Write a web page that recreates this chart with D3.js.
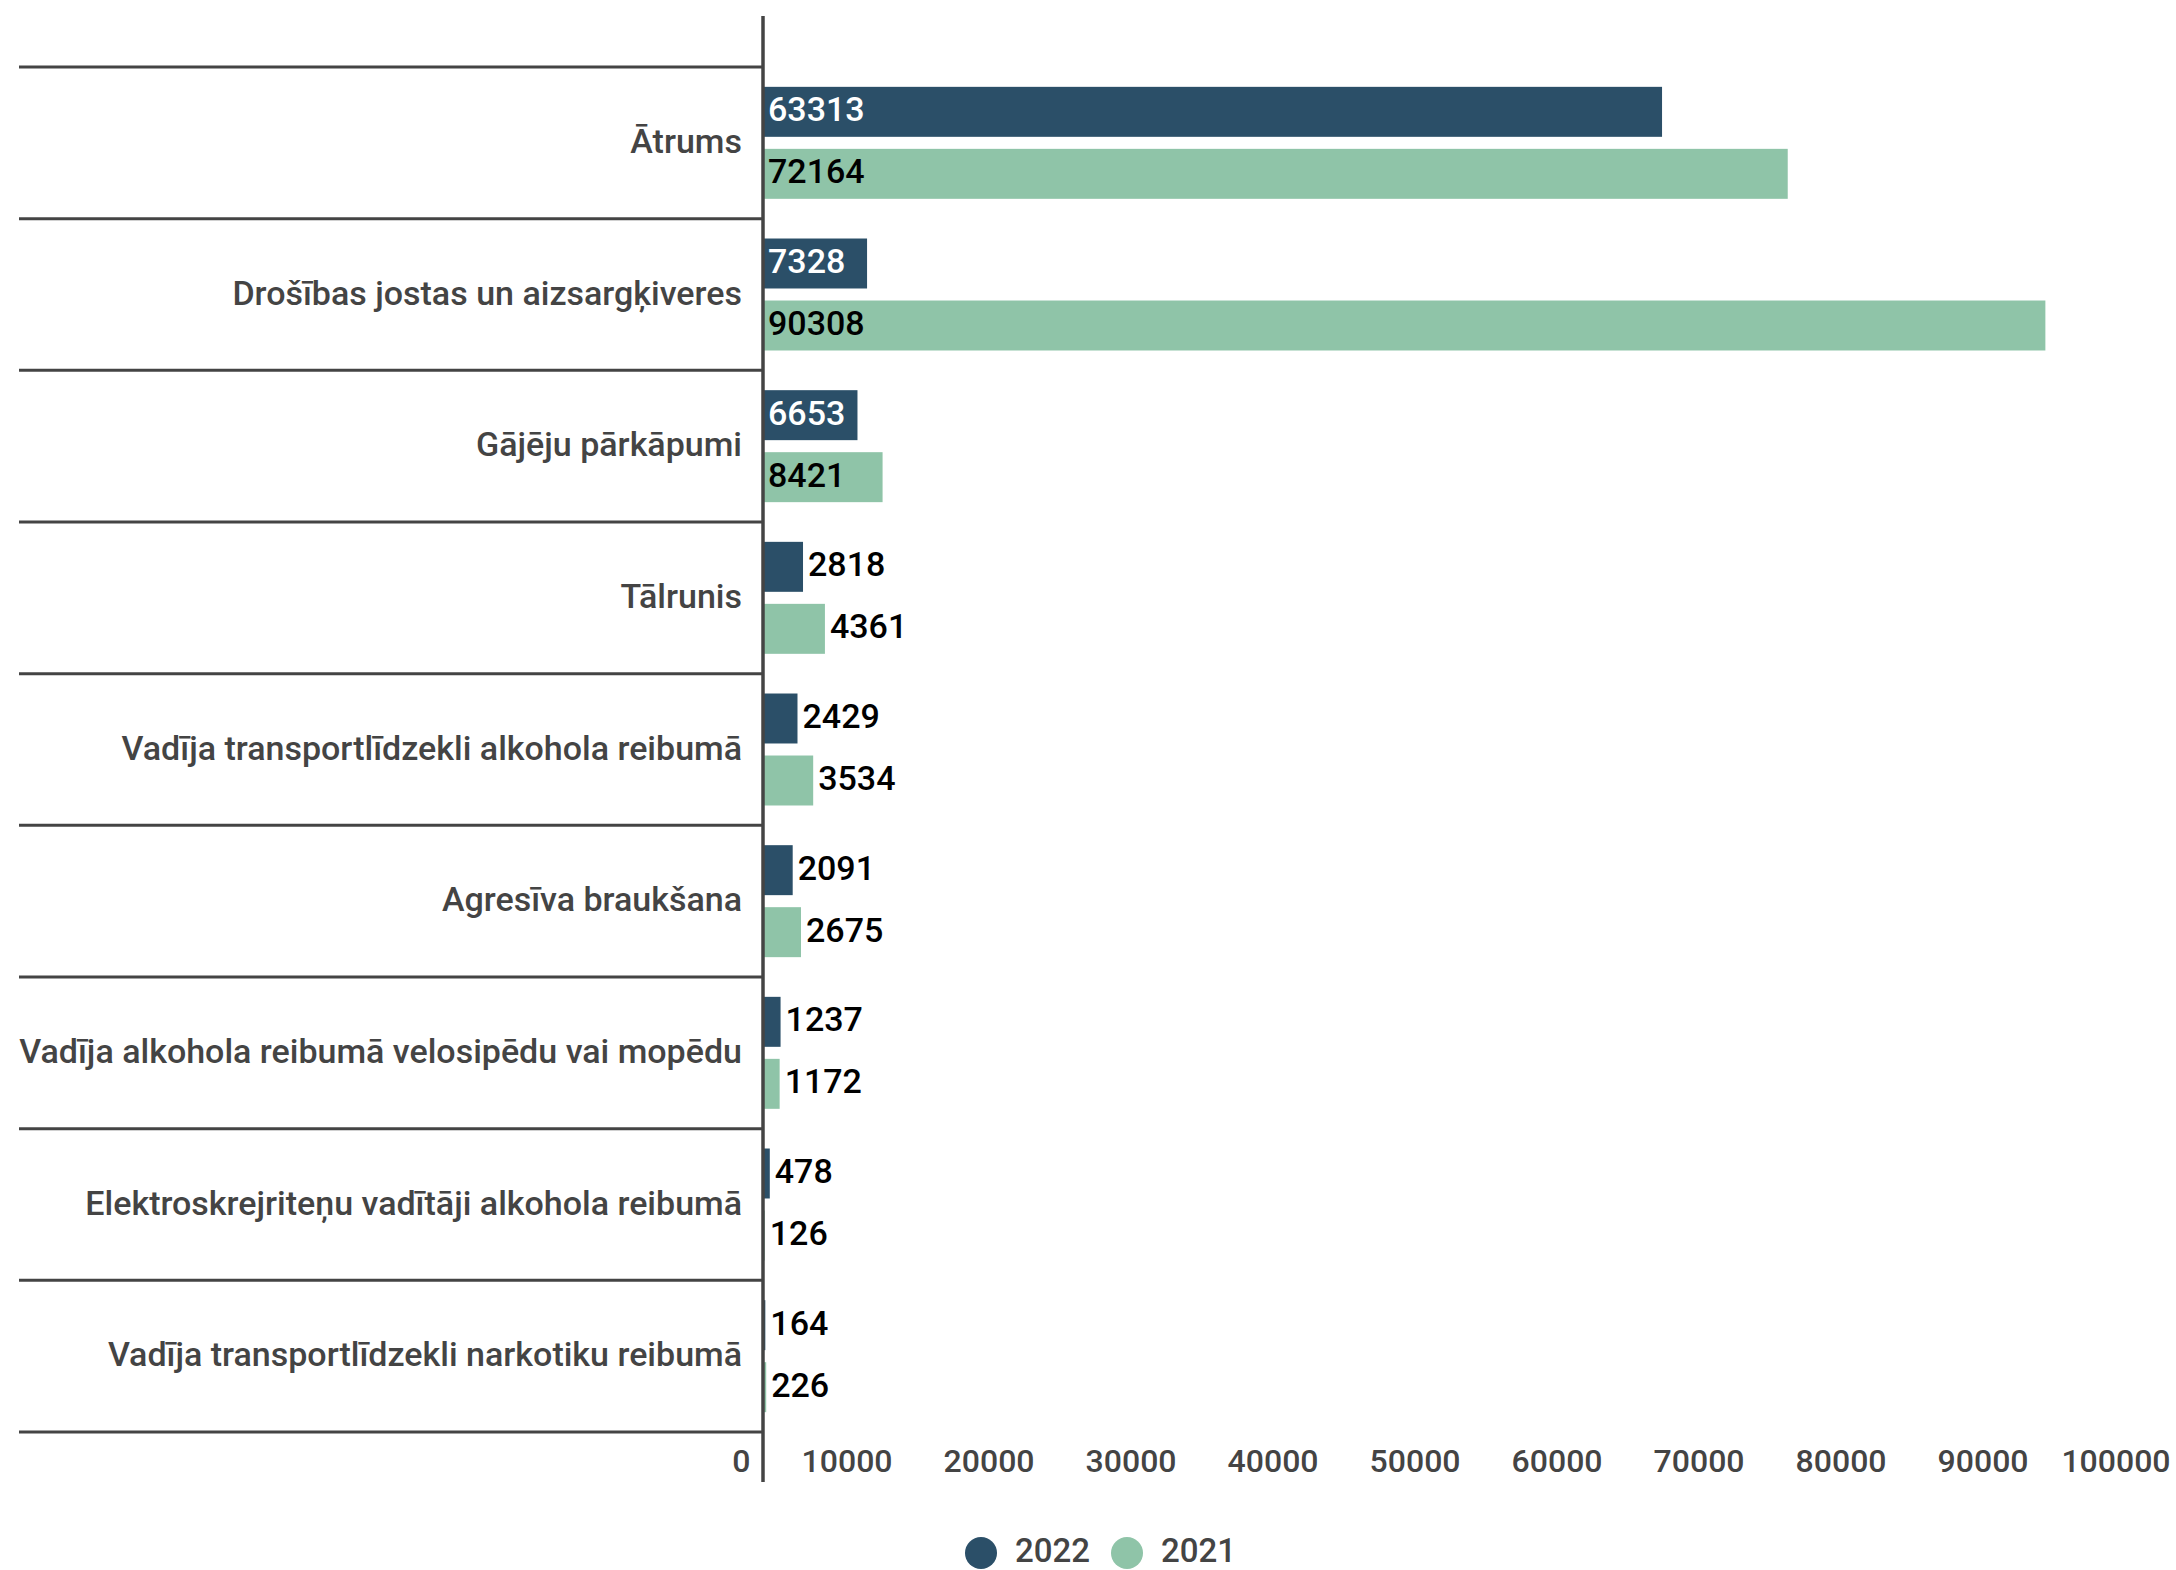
<!DOCTYPE html>
<html>
<head>
<meta charset="utf-8">
<script src="https://cdn.jsdelivr.net/npm/d3@7"></script>
<style>
  body { margin: 0; background: #fff; }
  svg { display: block; font-family: Roboto, "Noto Sans", sans-serif; }
</style>
</head>
<body>
<div id="chart"></div>
<script>
// categories and values
const categories = [
    "Ātrums",
    "Drošības jostas un aizsargķiveres",
    "Gājēju pārkāpumi",
    "Tālrunis",
    "Vadīja transportlīdzekli alkohola reibumā",
    "Agresīva braukšana",
    "Vadīja alkohola reibumā velosipēdu vai mopēdu",
    "Elektroskrejriteņu vadītāji alkohola reibumā",
    "Vadīja transportlīdzekli narkotiku reibumā"
];
const years = ["2022", "2021"];
const values2022 = [63313, 7328, 6653, 2818, 2429, 2091, 1237, 478, 164];
const values2021 = [72164, 90308, 8421, 4361, 3534, 2675, 1172, 126, 226];
const xTicks = [0, 10000, 20000, 30000, 40000, 50000, 60000, 70000, 80000, 90000, 100000];

function init() {
    const w = 2176;
    const h = 1570;
    const axisX = 763;
    const gray = "#444444";
    const colors = { "2022": "#2b4f68", "2021": "#8fc4a8" };
    const textColors = { "2022": "#ffffff", "2021": "#000000" };

    const svg = d3.select("#chart")
                  .append("svg")
                  .attr("width", w)
                  .attr("height", h);

    // scales
    const x = d3.scaleLinear().domain([0, 100000]).range([axisX, 2183]);
    const y = d3.scaleBand().domain(categories).range([67, 1432]);
    const y1 = d3.scaleBand().domain(years)
                 .range([0, y.bandwidth()])
                 .paddingInner(0.194)
                 .paddingOuter(0.32);

    const rows = categories.map(function(c, i) {
        return { cat: c, vals: [
            { year: "2022", value: values2022[i] },
            { year: "2021", value: values2021[i] }
        ]};
    });

    // row separator lines
    const edges = categories.map(function(c) { return y(c); }).concat([y.range()[1]]);
    svg.selectAll("line.sep")
        .data(edges)
        .enter()
        .append("line")
        .attr("class", "sep")
        .attr("x1", 19)
        .attr("x2", axisX)
        .attr("y1", function(d) { return d; })
        .attr("y2", function(d) { return d; })
        .attr("stroke", gray)
        .attr("stroke-width", 3);

    // category labels
    svg.selectAll("text.cat")
        .data(categories)
        .enter()
        .append("text")
        .attr("class", "cat")
        .text(function(d) { return d; })
        .attr("x", 742)
        .attr("y", function(d) { return y(d) + y.bandwidth() / 2; })
        .attr("dy", "0.3em")
        .attr("text-anchor", "end")
        .attr("font-size", "34px")
        .attr("font-weight", 500)
        .attr("fill", gray);

    // bars
    const groups = svg.selectAll("g.row")
        .data(rows)
        .enter()
        .append("g")
        .attr("class", "row")
        .attr("transform", function(d) { return "translate(0," + y(d.cat) + ")"; });

    groups.selectAll("rect")
        .data(function(d) { return d.vals; })
        .enter()
        .append("rect")
        .attr("x", x(0))
        .attr("y", function(d) { return y1(d.year); })
        .attr("width", function(d) { return x(d.value) - x(0); })
        .attr("height", y1.bandwidth())
        .attr("fill", function(d) { return colors[d.year]; });

    // value labels: inside the bar when they fit, otherwise just after it
    groups.selectAll("text")
        .data(function(d) { return d.vals; })
        .enter()
        .append("text")
        .text(function(d) { return d.value; })
        .attr("y", function(d) { return y1(d.year) + y1.bandwidth() / 2; })
        .attr("dy", "0.28em")
        .attr("font-size", "34px")
        .attr("font-weight", 500)
        .each(function(d) {
            const t = d3.select(this);
            const tw = this.getComputedTextLength();
            const bw = x(d.value) - x(0);
            if (bw > tw + 12) {
                t.attr("x", x(0) + 5).attr("fill", textColors[d.year]);
            } else {
                t.attr("x", x(d.value) + 5).attr("fill", "#000000");
            }
        });

    // x axis labels
    const xAxis = d3.axisBottom(x).tickValues(xTicks).tickSize(0).tickFormat(d3.format("d"));
    const gx = svg.append("g")
        .call(xAxis);
    gx.select(".domain").remove();
    gx.selectAll("text")
        .attr("y", 1472)
        .attr("dy", 0)
        .attr("dx", -13)
        .attr("text-anchor", "end")
        .attr("font-size", "32px")
        .attr("font-weight", 500)
        .attr("font-family", "Roboto, sans-serif")
        .attr("fill", gray);

    // vertical axis line
    svg.append("line")
        .attr("x1", axisX)
        .attr("x2", axisX)
        .attr("y1", 16)
        .attr("y2", 1482)
        .attr("stroke", gray)
        .attr("stroke-width", 3.5);

    // legend
    const legendX = [981, 1127];
    const legend = svg.selectAll("g.legend")
        .data(years)
        .enter()
        .append("g")
        .attr("class", "legend")
        .attr("transform", function(d, i) { return "translate(" + legendX[i] + ",1553)"; });
    legend.append("circle")
        .attr("r", 16)
        .attr("fill", function(d) { return colors[d]; });
    legend.append("text")
        .text(function(d) { return d; })
        .attr("x", 34)
        .attr("y", 9)
        .attr("font-size", "33px")
        .attr("font-weight", 500)
        .attr("fill", gray);
}

window.onload = init;
</script>
</body>
</html>
